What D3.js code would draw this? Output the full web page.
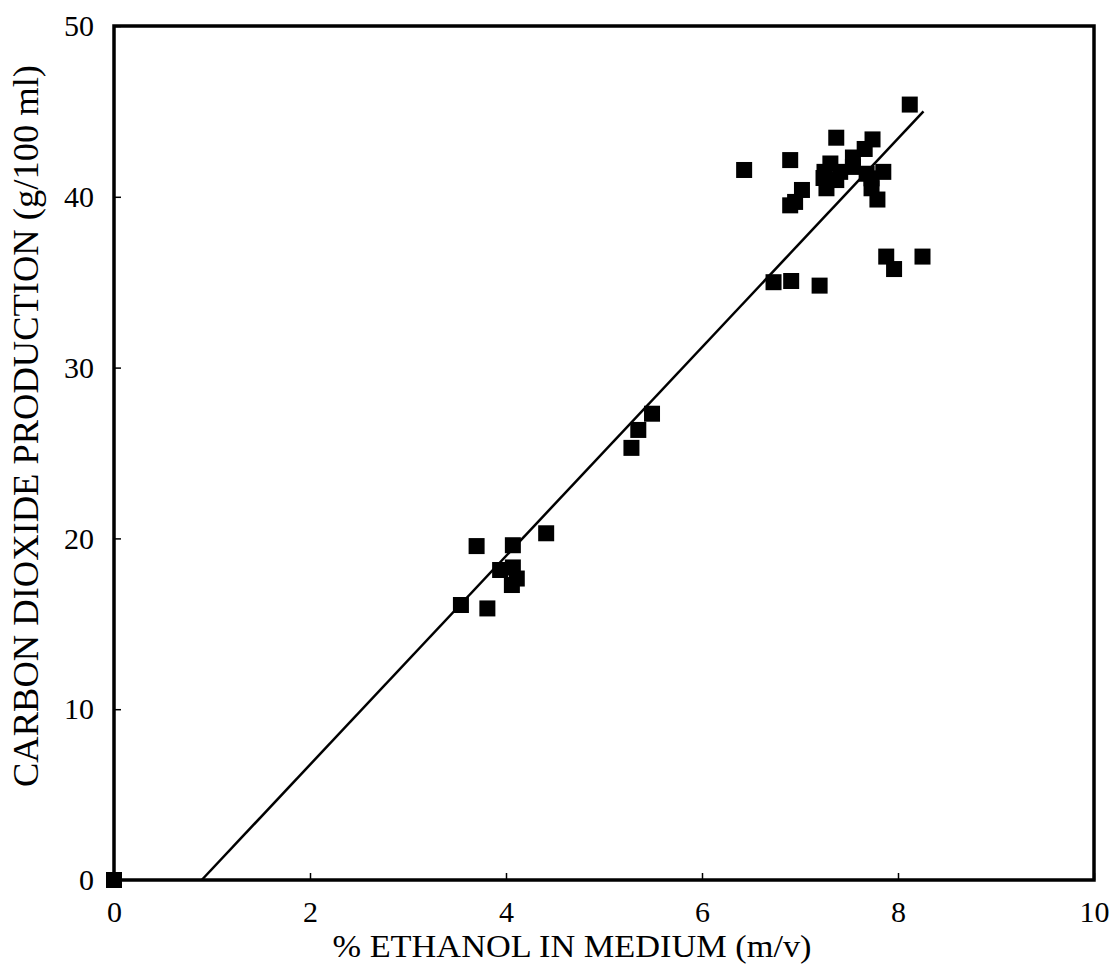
<!DOCTYPE html>
<html lang="en">
<head>
<meta charset="UTF-8">
<title>CO2 vs ethanol</title>
<script src="https://d3js.org/d3.v7.min.js"></script>
<style>
  body { margin: 0; background: #fff; }
  text { font-family: "Liberation Serif", "Times New Roman", serif; fill: #000; }
</style>
</head>
<body>
<svg id="chart" width="1118" height="969"></svg>
<script>
// % ethanol (m/v) and CO2 production (g/100 ml)
const ethanol = [0,
  3.54, 3.70, 3.81, 3.94, 4.06, 4.07, 4.07, 4.11, 4.41,
  5.28, 5.35, 5.49,
  6.43, 6.73, 6.90, 6.90, 6.91, 6.95, 7.02, 7.20, 7.24, 7.25, 7.27, 7.31, 7.37, 7.37, 7.41,
  7.54, 7.54, 7.66, 7.68, 7.73, 7.73, 7.74, 7.79, 7.85, 7.88, 7.96, 8.12, 8.25];
const co2 = [0,
  16.1, 19.55, 15.9, 18.15, 17.27, 18.3, 19.6, 17.65, 20.3,
  25.3, 26.35, 27.3,
  41.57, 35.0, 42.15, 39.5, 35.07, 39.7, 40.4, 34.8, 41.1, 41.46, 40.5, 41.95, 43.46, 40.98, 41.46,
  42.3, 41.75, 42.8, 41.35, 41.08, 40.5, 43.36, 39.84, 41.46, 36.5, 35.77, 45.4, 36.5];

// fitted line end points
const fitX = [0.895, 8.26];
const fitY = [0, 45.0];

const xTicks = [0, 2, 4, 6, 8, 10];
const yTicks = [0, 10, 20, 30, 40, 50];

const margin = {left: 114, right: 24, top: 26, bottom: 89};
const W = 1118, H = 969;
const svg = d3.select("#chart");

const x = d3.scaleLinear().domain([0, 10]).range([margin.left, W - margin.right]);
const y = d3.scaleLinear().domain([0, 50]).range([H - margin.bottom, margin.top]);

// inward ticks
svg.append("g")
  .attr("transform", `translate(0,${y(0)})`)
  .call(d3.axisBottom(x).tickValues(xTicks).tickSizeInner(-7).tickSizeOuter(0).tickPadding(21))
  .call(g => g.select(".domain").remove())
  .call(g => g.selectAll("line").attr("stroke-width", 1.5))
  .call(g => g.selectAll("text").attr("font-size", 30).style("font-family", "Liberation Serif"));

svg.append("g")
  .attr("transform", `translate(${x(0)},0)`)
  .call(d3.axisLeft(y).tickValues(yTicks).tickSizeInner(-7).tickSizeOuter(0).tickPadding(20))
  .call(g => g.select(".domain").remove())
  .call(g => g.selectAll("line").attr("stroke-width", 1.5))
  .call(g => g.selectAll("text").attr("font-size", 30).style("font-family", "Liberation Serif"));

// frame
svg.append("rect")
  .attr("x", x(0)).attr("y", y(50))
  .attr("width", x(10) - x(0)).attr("height", y(0) - y(50))
  .attr("fill", "none").attr("stroke", "#000").attr("stroke-width", 3.5);

// regression line
svg.append("line")
  .attr("x1", x(fitX[0])).attr("y1", y(fitY[0]))
  .attr("x2", x(fitX[1])).attr("y2", y(fitY[1]))
  .attr("stroke", "#000").attr("stroke-width", 2.5);

// points
const s = 16;
svg.append("g").selectAll("rect")
  .data(d3.range(ethanol.length))
  .enter().append("rect")
  .attr("x", i => x(ethanol[i]) - s / 2)
  .attr("y", i => y(co2[i]) - s / 2)
  .attr("width", s).attr("height", s)
  .attr("fill", "#000");

// axis titles
svg.append("text")
  .attr("x", 572).attr("y", 957)
  .attr("text-anchor", "middle").attr("font-size", 32)
  .attr("textLength", 479).attr("lengthAdjust", "spacingAndGlyphs")
  .text("% ETHANOL IN MEDIUM (m/v)");

svg.append("text")
  .attr("transform", "translate(38,426) rotate(-90)")
  .attr("text-anchor", "middle").attr("font-size", 35)
  .attr("textLength", 722).attr("lengthAdjust", "spacingAndGlyphs")
  .text("CARBON DIOXIDE PRODUCTION (g/100 ml)");
</script>
</body>
</html>
